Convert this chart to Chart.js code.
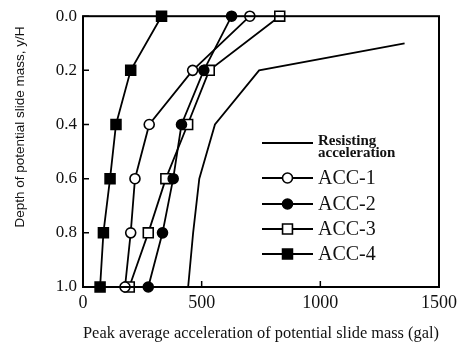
<!DOCTYPE html>
<html>
<head>
<meta charset="utf-8">
<script src="https://cdn.jsdelivr.net/npm/chart.js@4.4.0/dist/chart.umd.min.js"></script>
<style>
  html, body { margin: 0; padding: 0; background: #fff; }
  #wrap { width: 464px; height: 344px; }
</style>
</head>
<body>
<div id="wrap"><canvas id="depthChart" width="464" height="344"></canvas></div>
<script>
// depth ratio y/H for each measured level
var depth = [0.0, 0.2, 0.4, 0.6, 0.8, 1.0];
var resistDepth = [0.1, 0.2, 0.4, 0.6, 0.8, 1.0];

// peak average acceleration (gal)
var resisting = [1355, 742, 556, 490, 464, 443];
var acc1 = [703, 462, 279, 219, 201, 177];
var acc2 = [626, 509, 415, 380, 335, 275];
var acc3 = [829, 532, 441, 349, 275, 195];
var acc4 = [331, 201, 139, 114, 86, 72];

var xTicks = [0, 500, 1000, 1500];
var yTicks = [0.0, 0.2, 0.4, 0.6, 0.8, 1.0];

var serif = "'Liberation Serif', 'Times New Roman', serif";

function pts(xs, ys) {
	var out = [];
	for (var i in xs) {
		out.push({x: xs[i], y: ys[i]});
	}
	return out;
}

function series(label, xs, ys, style, fill) {
	return {
		label: label,
		data: pts(xs, ys),
		showLine: true,
		borderColor: "#000",
		borderWidth: 1.8,
		pointStyle: style,
		pointRadius: style === false ? 0 : (style === "rect" ? 7 : 5),
		pointBackgroundColor: fill,
		pointBorderColor: "#000",
		pointBorderWidth: 1.6,
		clip: false
	};
}

var datasets = [
	series("Resisting acceleration", resisting, resistDepth, false, "#000"),
	series("ACC-1", acc1, depth, "circle", "#fff"),
	series("ACC-2", acc2, depth, "circle", "#000"),
	series("ACC-3", acc3, depth, "rect", "#fff"),
	series("ACC-4", acc4, depth, "rect", "#000")
];

// frame, inward ticks, y title and the boxed-in legend
var decor = {
	id: "decor",
	afterDraw: function(chart) {
		var ctx = chart.ctx;
		var a = chart.chartArea;
		var xs = chart.scales.x, ys = chart.scales.y;
		ctx.save();
		ctx.strokeStyle = "#000";
		ctx.lineWidth = 2;
		ctx.strokeRect(a.left, a.top, a.right - a.left, a.bottom - a.top);

		ctx.lineWidth = 1.5;
		ctx.beginPath();
		xTicks.forEach(function(v) {
			var px = xs.getPixelForValue(v);
			ctx.moveTo(px, a.bottom); ctx.lineTo(px, a.bottom - 6);
		});
		yTicks.forEach(function(v) {
			var py = ys.getPixelForValue(v);
			ctx.moveTo(a.left, py); ctx.lineTo(a.left + 6, py);
		});
		ctx.stroke();

		// y axis title
		ctx.fillStyle = "#111";
		ctx.font = "13.5px 'Liberation Sans', Arial, sans-serif";
		ctx.textAlign = "center";
		ctx.textBaseline = "middle";
		ctx.translate(20, 127);
		ctx.rotate(-Math.PI / 2);
		ctx.fillText("Depth of potential slide mass, y/H", 0, 0);
		ctx.restore();

		// legend
		ctx.save();
		var lx0 = 262, lx1 = 313, tx = 318;
		var rows = [143, 178, 204, 229, 254];
		chart.data.datasets.forEach(function(ds, i) {
			var y = rows[i];
			ctx.strokeStyle = "#000";
			ctx.lineWidth = 1.8;
			ctx.beginPath();
			ctx.moveTo(lx0, y); ctx.lineTo(lx1, y);
			ctx.stroke();
			if (ds.pointStyle) {
				ctx.fillStyle = ds.pointBackgroundColor;
				ctx.lineWidth = ds.pointBorderWidth;
				Chart.helpers.drawPoint(ctx, {
					pointStyle: ds.pointStyle,
					radius: ds.pointRadius,
					borderWidth: ds.pointBorderWidth,
					rotation: 0
				}, (lx0 + lx1) / 2, y);
			}
			ctx.fillStyle = "#111";
			ctx.textAlign = "left";
			ctx.textBaseline = "middle";
			if (i === 0) {
				ctx.font = "bold 15px " + serif;
				ctx.fillText("Resisting", tx, y - 2);
				ctx.fillText("acceleration", tx, y + 10);
			} else {
				ctx.font = "20px " + serif;
				ctx.fillText(ds.label, tx, y + 1);
			}
		});
		ctx.restore();
	}
};

var ctx1 = document.getElementById("depthChart");
var chart1 = new Chart(ctx1, {
	type: "scatter",
	data: { datasets: datasets },
	plugins: [decor],
	options: {
		responsive: false,
		animation: false,
		layout: { padding: { left: 0, right: 25, top: 14, bottom: 0 } },
		plugins: {
			legend: { display: false },
			tooltip: { enabled: false }
		},
		scales: {
			x: {
				type: "linear",
				min: 0,
				max: 1500,
				afterBuildTicks: function(scale) {
					scale.ticks = xTicks.map(function(v) { return {value: v}; });
				},
				afterFit: function(scale) { scale.height = 57; },
				grid: { display: false, drawTicks: false },
				border: { display: false },
				ticks: {
					padding: 5,
					color: "#111",
					font: { family: serif, size: 18 },
					callback: function(v) { return String(v); }
				},
				title: {
					display: true,
					text: "Peak average acceleration of potential slide mass (gal)",
					color: "#111",
					padding: { top: 1, bottom: 0 },
					font: { family: serif, size: 17 }
				}
			},
			y: {
				type: "linear",
				reverse: true,
				min: 0,
				max: 1,
				afterBuildTicks: function(scale) {
					scale.ticks = yTicks.map(function(v) { return {value: v}; });
				},
				afterFit: function(scale) { scale.width = 83; },
				grid: { display: false, drawTicks: false },
				border: { display: false },
				ticks: {
					padding: 6,
					color: "#111",
					font: { family: serif, size: 17 },
					callback: function(v) { return Number(v).toFixed(1); }
				}
			}
		}
	}
});
</script>
</body>
</html>
